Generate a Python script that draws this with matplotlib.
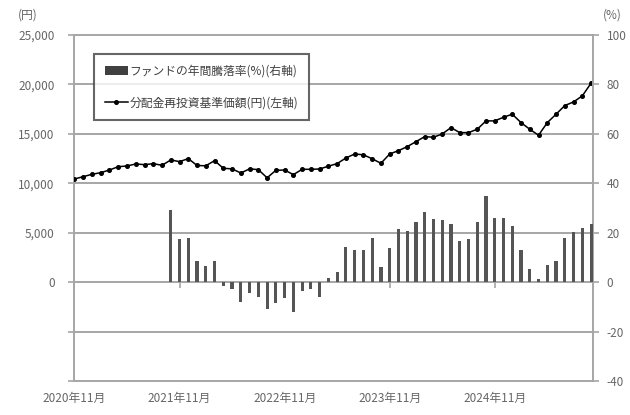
import matplotlib
matplotlib.use('Agg')
import matplotlib.pyplot as plt
from matplotlib.patches import Patch
from matplotlib.lines import Line2D

plt.rcParams['font.family'] = ['Noto Sans CJK JP', 'DejaVu Sans']

# monthly data, 2020-11 .. 2025-10
months = [f'{2020 + (10 + i) // 12}年{(10 + i) % 12 + 1}月' for i in range(60)]

# 分配金再投資基準価額 (円)
nav = [10425, 10660, 10900, 11065, 11335, 11670, 11740, 11945, 11875, 11975,
       11810, 12350, 12180, 12485, 11790, 11760, 12280, 11505, 11450, 11030,
       11450, 11370, 10545, 11300, 11335, 10865, 11405, 11405, 11435, 11720,
       11980, 12550, 12955, 12870, 12470, 12010, 12955, 13290, 13695, 14200,
       14710, 14645, 14980, 15620, 15115, 15115, 15455, 16300, 16300, 16670,
       16975, 16125, 15455, 14850, 16125, 16975, 17850, 18220, 18830, 20115]

# ファンドの年間騰落率 (%), starts 2021-10
returns = [None] * 11 + [
    29.0, 17.3, 17.8, 8.5, 6.7, 8.5, -1.6, -2.6, -8.1, -4.3,
    -5.9, -10.7, -8.6, -6.6, -12.3, -3.7, -2.6, -6.0, 1.8, 4.0,
    14.3, 13.0, 13.0, 17.9, 6.0, 13.9, 21.3, 20.7, 24.4, 28.5,
    25.6, 25.2, 23.6, 16.7, 17.3, 24.4, 35.0, 25.8, 25.8, 22.7,
    13.0, 5.2, 1.2, 7.0, 8.6, 18.0, 20.4, 22.0, 23.6]

xtick_pos = [0, 12, 24, 36, 48]
left_ticks = [-10000, -5000, 0, 5000, 10000, 15000, 20000, 25000]
left_labels = ['', '', '0', '5,000', '10,000', '15,000', '20,000', '25,000']
right_ticks = [-40, -20, 0, 20, 40, 60, 80, 100]

grid_c = '#a6a6a6'
text_c = '#666666'

fig = plt.figure(figsize=(6.3, 4.15), dpi=100)
ax = fig.add_axes([0.1175, 0.082, 0.8235, 0.834])
ax2 = ax.twinx()

x = list(range(len(months)))
bx = [i for i, r in zip(x, returns) if r is not None]
bv = [r for r in returns if r is not None]
ax2.bar(bx, bv, width=0.36, color='#555555', zorder=3)

ax.plot(x, nav, color='black', linewidth=1.1, marker='o', markersize=2.6, zorder=4)

ax.set_xlim(-0.05, 59.2)
ax.set_ylim(-10000, 25000)
ax2.set_ylim(-40, 100)

ax.set_yticks(left_ticks)
ax.set_yticklabels(left_labels)
ax2.set_yticks(right_ticks)
ax2.set_yticklabels([str(t) for t in right_ticks])

for t in left_ticks:
    ax.axhline(t, color=grid_c, linewidth=1.4, zorder=1, clip_on=False)

for a in (ax, ax2):
    for s in a.spines.values():
        s.set_visible(False)
    a.tick_params(axis='y', colors=grid_c, labelcolor=text_c, labelsize=8.5,
                  length=4, width=1.2, pad=10)
ax2.tick_params(axis='y', pad=6)
ax.spines['left'].set_visible(True)
ax.spines['left'].set_color(grid_c)
ax.spines['left'].set_linewidth(1.4)
ax2.spines['right'].set_visible(True)
ax2.spines['right'].set_color(grid_c)
ax2.spines['right'].set_linewidth(1.4)

# month labels at the bottom, tick marks on the zero line
ax.set_xticks(xtick_pos)
ax.set_xticklabels([months[i] for i in xtick_pos])
ax.tick_params(axis='x', length=0, labelcolor=text_c, labelsize=8.5, pad=8)
sec = ax.secondary_xaxis(10000 / 35000)
sec.set_xticks(xtick_pos)
sec.set_xticklabels([])
sec.tick_params(axis='x', length=4, width=1.2, colors=grid_c, direction='out')
sec.spines['bottom'].set_visible(False)

fig.text(0.028, 0.963, '(円)', color=text_c, fontsize=8.5, ha='left', va='center')
fig.text(0.972, 0.963, '(%)', color=text_c, fontsize=8.5, ha='center', va='center')

handles = [Patch(facecolor='#404040', edgecolor='none'),
           Line2D([0], [0], color='black', linewidth=1.1, marker='o', markersize=2.6)]
labels = ['ファンドの年間騰落率(%)(右軸)', '分配金再投資基準価額(円)(左軸)']
leg = ax2.legend(handles, labels, loc='upper left', bbox_to_anchor=(0.027, 0.962),
                 fontsize=8.5, frameon=True, fancybox=False, labelspacing=1.6,
                 handlelength=2.0, handletextpad=0.1, borderpad=0.9,
                 labelcolor='#404040')
leg.get_frame().set_edgecolor('#404040')
leg.get_frame().set_linewidth(1.5)
leg.set_zorder(5)

fig.savefig('out.png', dpi=100)
